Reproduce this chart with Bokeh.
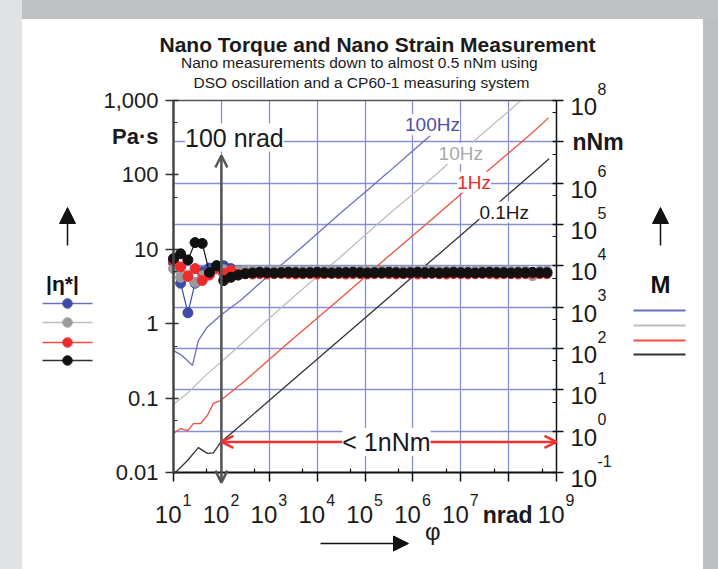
from bokeh.plotting import figure
from bokeh.models import (Range1d, LogScale, LinearScale, LogAxis, FixedTicker, Grid, Label,
                          Arrow, OpenHead, NormalHead, Div, CustomJSTickFormatter,
                          NumeralTickFormatter)
from bokeh.layouts import row, column
from bokeh.embed import file_html
from bokeh.resources import INLINE

FONT = "Liberation Sans"

# ---------------- data ----------------
TITLE = "Nano Torque and Nano Strain Measurement"
SUB1 = "Nano measurements down to almost 0.5  nNm using"
SUB2 = "DSO oscillation and a CP60-1 measuring system"

series_names = ["100Hz", "10Hz", "1Hz", "0.1Hz"]

# |eta*| (Pa.s) versus deflection angle phi (nrad)
phi_eta = [10, 14.1, 20, 28.2, 39.8, 56.2, 79.4, 112, 158, 224, 316, 447, 631, 891,
           1260, 1780, 2510, 3550, 5010, 7080, 1.0e4, 1.41e4, 2.0e4, 2.82e4, 3.98e4,
           5.62e4, 7.94e4, 1.12e5, 1.58e5, 2.24e5, 3.16e5, 4.47e5, 6.31e5, 8.91e5,
           1.26e6, 1.78e6, 2.51e6, 3.55e6, 5.01e6, 7.08e6, 1.0e7, 1.41e7, 2.0e7,
           2.82e7, 3.98e7, 5.62e7, 7.94e7, 1.12e8, 1.58e8, 2.24e8, 3.16e8, 4.47e8, 6.31e8]

eta_100hz = [6.6, 3.5, 1.4, 3.5, 5.0, 5.6, 6.0, 6.0, 5.5, 5.2, 5.0, 4.95,
             4.9, 4.95, 4.9, 4.95, 5.0, 4.95, 4.9, 4.95, 4.9, 4.95,
             4.95, 4.9, 4.95, 5.0, 4.95, 4.9, 4.95, 4.9, 4.95, 4.9,
             4.95, 4.9, 4.8, 4.75, 4.8, 4.9, 4.95, 4.9, 4.95, 4.9,
             4.95, 4.9, 4.95, 4.9, 4.95, 4.9, 4.9, 4.95, 4.9, 4.9,
             4.9]
eta_10hz = [5.5, 4.2, 4.5, 3.6, 4.4, 5.0, 5.4, 5.3, 5.1, 5.15, 5.1, 5.15,
            5.15, 5.1, 5.15, 5.2, 5.15, 5.1, 5.15, 5.15, 5.1, 5.15,
            5.2, 5.15, 5.1, 5.15, 5.15, 5.1, 5.15, 5.2, 5.15, 5.1,
            5.15, 5.15, 5.1, 5.15, 5.2, 5.15, 5.1, 5.15, 5.15, 5.1,
            5.15, 5.2, 5.15, 5.1, 5.15, 5.15, 5.1, 5.15, 4.4, 5.1,
            5.15]
eta_1hz = [7.0, 5.8, 4.3, 5.5, 3.8, 4.5, 5.6, 4.7, 5.2, 4.6, 4.7, 4.65,
           4.7, 4.65, 4.7, 4.75, 4.7, 4.65, 4.7, 4.7, 4.65, 4.7,
           4.75, 4.7, 4.65, 4.7, 4.7, 4.65, 4.7, 4.75, 4.7, 4.65,
           4.7, 4.7, 4.65, 4.7, 4.75, 4.7, 4.65, 4.7, 4.7, 4.65,
           4.7, 4.75, 4.7, 4.65, 4.7, 4.7, 4.65, 4.7, 4.75, 4.7,
           4.7]
eta_01hz = [7.5, 8.7, 7.2, 12.3, 12.0, 4.9, 6.0, 3.8, 4.2, 4.5, 4.7, 4.8,
            4.9, 4.85, 4.8, 4.85, 4.9, 4.85, 4.8, 4.85, 4.9, 4.85,
            4.8, 4.85, 4.85, 4.9, 4.85, 4.8, 4.85, 4.85, 4.9, 4.85,
            4.8, 4.85, 4.9, 4.85, 4.85, 4.8, 4.85, 4.9, 4.85, 4.85,
            4.8, 4.85, 4.9, 4.85, 4.85, 4.8, 4.85, 4.85, 4.9, 4.85,
            4.85]

# torque M (nNm) versus phi (nrad)
phi_m_100 = [10, 15, 25, 33, 50, 95, 250, 1000, 3000, 1.0e4, 3.0e4, 1.0e5, 3.0e5, 1.0e6, 2.3e6]
m_100 = [89, 68, 39, 155, 324, 630, 1450, 6000, 1.75e4, 6.0e4, 1.85e5, 6.0e5, 1.8e6, 6.1e6, 1.4e7]

phi_m_10 = [10, 20, 50, 100, 300, 1000, 3000, 1.0e4, 3.0e4, 1.0e5, 3.0e5, 1.0e6, 3.0e6,
            1.0e7, 3.0e7, 1.0e8, 1.8e8]
m_10 = [4.5, 8.5, 24, 48, 150, 540, 1650, 5500, 1.6e4, 5.5e4, 1.7e5, 5.5e5, 1.6e6,
        5.5e6, 1.65e7, 5.5e7, 1.0e8]

phi_m_1 = [10, 14, 20, 26, 37, 51, 68, 96, 300, 1000, 3000, 1.0e4, 3.0e4, 1.0e5, 3.0e5,
           1.0e6, 3.0e6, 1.0e7, 3.0e7, 1.0e8, 3.0e8, 6.8e8]
m_1 = [0.88, 1.16, 1.03, 1.53, 1.53, 2.4, 4.7, 5.5, 16, 54, 165, 540, 1600, 5400, 1.65e4,
       5.4e4, 1.6e5, 5.4e5, 1.65e6, 5.4e6, 1.6e7, 3.8e7]

phi_m_01 = [10, 12.1, 19.6, 33, 51, 68, 96, 300, 1000, 3000, 1.0e4, 3.0e4, 1.0e5, 3.0e5,
            1.0e6, 3.0e6, 1.0e7, 3.0e7, 1.0e8, 3.0e8, 7.0e8]
m_01 = [0.095, 0.112, 0.195, 0.40, 0.29, 0.30, 0.53, 1.65, 5.5, 16.5, 55, 165, 550, 1650,
        5500, 1.65e4, 5.5e4, 1.65e5, 5.5e5, 1.65e6, 3.9e6]

left_ticks = [0.01, 0.1, 1, 10, 100, 1000]
left_tick_labels = ["0.01", "0.1", "1", "10", "100", "1,000"]
left_minor = [0.05, 0.5, 5, 50, 500]
x_exponents = [1, 2, 3, 4, 5, 6, 7, 8, 9]
right_exponents = [-1, 0, 1, 2, 3, 4, 5, 6, 7, 8]

X_MIN, X_MAX = 10, 1e9
Y_MIN, Y_MAX = 0.01, 1000
M_MIN, M_MAX = 0.1, 1e8

# ---------------- layout geometry (page pixels) ----------------
CL, CR, CT, CB = 22, 703, 19, 569        # white canvas
FL, FR, FT, FB = 173, 556, 100, 472      # plotting box
PXD = (FR - FL) / 8
PYD = (FB - FT) / 5
PYM = (FB - FT) / 9
XLO, XHI = 10 ** (1 - (FL - CL) / PXD), 10 ** (9 + (CR - FR) / PXD)
YLO, YHI = 10 ** (-2 - (CB - FB) / PYD), 10 ** (3 + (FT - CT) / PYD)
MLO, MHI = 10 ** (-1 - (CB - FB) / PYM), 10 ** (8 + (FT - CT) / PYM)

# ---------------- styles ----------------
C_MARK = ["#3f4aa6", "#9b9b9b", "#ee2b2b", "#111111"]
C_LINE = ["#6a6fc6", "#bdbdbd", "#f0503c", "#333333"]
C_LAB = ["#4d4fa6", "#a9a9a9", "#ec2a2a", "#1a1a1a"]
GRID = "#8a8ed8"
RED = "#ee3333"

p = figure(width=CR - CL, height=CB - CT, x_axis_type="log", y_axis_type="log",
           x_range=Range1d(XLO, XHI), y_range=Range1d(YLO, YHI),
           output_backend="svg", toolbar_location=None, title=None, min_border=0,
           background_fill_color="white", border_fill_color="white")
p.extra_y_ranges = {"M": Range1d(MLO, MHI), "py": Range1d(CB, CT)}
p.extra_y_scales = {"M": LogScale(), "py": LinearScale()}
p.extra_x_ranges = {"px": Range1d(CL, CR)}
p.extra_x_scales = {"px": LinearScale()}
p.outline_line_color = None

# bottom axis
xa = p.xaxis[0]
xa.fixed_location = Y_MIN
xa.bounds = (X_MIN, X_MAX)
xa.ticker = FixedTicker(ticks=[10.0 ** e for e in x_exponents],
                        minor_ticks=[5 * 10.0 ** e for e in x_exponents[:-1]])
xa.formatter = CustomJSTickFormatter(code="return ''")
xa.axis_line_color = "#111111"
xa.axis_line_width = 2
xa.major_tick_line_color = "#111111"
xa.major_tick_line_width = 1.5
xa.major_tick_out = 9
xa.major_tick_in = 0
xa.minor_tick_line_color = "#111111"
xa.minor_tick_line_width = 1.2
xa.minor_tick_in = 4
xa.minor_tick_out = 0

# left axis
ya = p.yaxis[0]
ya.fixed_location = X_MIN
ya.bounds = (Y_MIN, Y_MAX)
ya.ticker = FixedTicker(ticks=left_ticks, minor_ticks=left_minor)
ya.formatter = NumeralTickFormatter(format="0,0.[00]")
ya.major_label_overrides = dict(zip(left_ticks, left_tick_labels))
ya.major_label_text_font = FONT
ya.major_label_text_font_size = "22px"
ya.major_label_text_color = "#1a1a1a"
ya.major_label_standoff = 7
ya.axis_line_color = "#444444"
ya.axis_line_width = 2.5
ya.major_tick_line_color = "#333333"
ya.major_tick_line_width = 1.5
ya.major_tick_out = 8
ya.major_tick_in = 5
ya.minor_tick_line_color = "#333333"
ya.minor_tick_line_width = 1.2
ya.minor_tick_in = 4
ya.minor_tick_out = 0

# right axis (torque)
ra = LogAxis(y_range_name="M", fixed_location=X_MAX, bounds=(M_MIN, M_MAX),
             ticker=FixedTicker(ticks=[10.0 ** e for e in right_exponents],
                                minor_ticks=[5 * 10.0 ** e for e in right_exponents[:-1]]),
             formatter=CustomJSTickFormatter(code="return ''"))
ra.axis_line_color = "#111111"
ra.axis_line_width = 1.5
ra.major_tick_line_color = "#111111"
ra.major_tick_line_width = 1.5
ra.major_tick_out = 7
ra.major_tick_in = 4
ra.minor_tick_line_color = "#111111"
ra.minor_tick_in = 4
ra.minor_tick_out = 0
p.add_layout(ra, "right")

# top frame line
ta = LogAxis(fixed_location=Y_MAX, bounds=(X_MIN, X_MAX),
             ticker=FixedTicker(ticks=[]), formatter=CustomJSTickFormatter(code="return ''"),
             axis_line_color="#555555", axis_line_width=1.5,
             major_tick_in=0, major_tick_out=0, minor_tick_in=0, minor_tick_out=0)
p.add_layout(ta, "above")

# grid lines
xgrid_ticks = [10.0 ** e for e in x_exponents[1:-1]]
mgrid_ticks = [10.0 ** e for e in right_exponents[1:-1]]
p.ygrid.visible = False
if "cross_bounds" in Grid.properties():
    p.xgrid.ticker = FixedTicker(ticks=xgrid_ticks)
    p.xgrid.cross_bounds = (Y_MIN, Y_MAX)
    p.xgrid.grid_line_color = GRID
    p.xgrid.grid_line_width = 1.3
    hg = Grid(dimension=1, ticker=FixedTicker(ticks=mgrid_ticks), y_range_name="M",
              cross_bounds=(X_MIN, X_MAX), grid_line_color=GRID, grid_line_width=1.3)
    p.add_layout(hg)
else:
    p.xgrid.visible = False
    p.segment(x0=xgrid_ticks, y0=[Y_MIN] * len(xgrid_ticks), x1=xgrid_ticks,
              y1=[Y_MAX] * len(xgrid_ticks), line_color=GRID, line_width=1.3, level="underlay")
    p.segment(x0=[X_MIN] * len(mgrid_ticks), y0=mgrid_ticks, x1=[X_MAX] * len(mgrid_ticks),
              y1=mgrid_ticks, y_range_name="M", line_color=GRID, line_width=1.3, level="underlay")

# torque lines
for xs, ys, c in zip([phi_m_100, phi_m_10, phi_m_1, phi_m_01], [m_100, m_10, m_1, m_01], C_LINE):
    p.line(xs, ys, y_range_name="M", line_color=c, line_width=1.3)

# viscosity series
for ys, cm in zip([eta_100hz, eta_10hz, eta_1hz, eta_01hz], C_MARK):
    p.line(phi_eta, ys, line_color=cm, line_width=1.2)
    p.scatter(phi_eta, ys, size=10, fill_color=cm, line_color=cm)

# arrows (drawn before labels so that label boxes sit on top)
p.add_layout(Arrow(start=OpenHead(size=12, line_color="#555555", line_width=2.5),
                   end=OpenHead(size=12, line_color="#555555", line_width=2.5),
                   x_start=100, y_start=182, x_end=100, y_end=0.0073,
                   line_color="#555555", line_width=2.5))
p.add_layout(Arrow(start=OpenHead(size=12, line_color=RED, line_width=2.5),
                   end=OpenHead(size=12, line_color=RED, line_width=2.5),
                   x_start=100, y_start=0.55, x_end=1e9, y_end=0.55, y_range_name="M",
                   line_color=RED, line_width=2.5))
p.add_layout(Arrow(end=NormalHead(size=15, fill_color="#111111", line_color="#111111"),
                   x_start=320, y_start=543, x_end=408, y_end=543,
                   x_range_name="px", y_range_name="py",
                   line_color="#111111", line_width=1.5))
for ax in (67, 660):
    p.add_layout(Arrow(end=NormalHead(size=16, fill_color="#111111", line_color="#111111"),
                       x_start=ax, y_start=245, x_end=ax, y_end=207,
                       x_range_name="px", y_range_name="py",
                       line_color="#111111", line_width=1.5))


def lab(x, y, text, size, color="#1a1a1a", bold=False, align="center", baseline="middle",
        xo=0, yo=0, bg=None, yr=None, xr=None):
    kw = dict(x=x, y=y, text=text, text_font=FONT, text_font_size=f"{size}px",
              text_color=color, text_align=align, text_baseline=baseline,
              x_offset=xo, y_offset=yo)
    if bold:
        kw["text_font_style"] = "bold"
    if bg:
        kw["background_fill_color"] = bg
    if yr:
        kw["y_range_name"] = yr
    if xr:
        kw["x_range_name"] = xr
    p.add_layout(Label(**kw))


# title & subtitle
lab(377, 44, TITLE, 21, bold=True, xr="px", yr="py")
lab(361, 62, SUB1, 15.5, xr="px", yr="py")
lab(361, 82, SUB2, 15.5, xr="px", yr="py")

# x tick labels
for e in x_exponents:
    if e == 8:
        lab(10.0 ** e, Y_MIN, "nrad", 23, bold=True, xo=-1, yo=-42)
        continue
    lab(10.0 ** e, Y_MIN, "10", 24, align="right", xo=8, yo=-42)
    lab(10.0 ** e, Y_MIN, str(e), 16, align="left", xo=9, yo=-27)
lab(1e6, Y_MIN, "φ", 24, xo=20, yo=-59)

# right tick labels
for e in right_exponents:
    if e == 7:
        lab(X_MAX, 10.0 ** e, "nNm", 23, bold=True, align="left", xo=16, yr="M")
        continue
    lab(X_MAX, 10.0 ** e, "10", 24, align="left", xo=14, yo=-6, yr="M")
    lab(X_MAX, 10.0 ** e, str(e), 16, align="left", xo=41, yo=12, yr="M")

lab(X_MIN, 330, "Pa·s", 22, bold=True, align="right", xo=-15)

# curve labels
lab(2.57e6, 2.6e7, series_names[0], 19, color=C_LAB[0], bg="white", yr="M")
lab(1.0e7, 5.2e6, series_names[1], 19, color=C_LAB[1], bg="white", yr="M")
lab(1.9e7, 1.05e6, series_names[2], 19, color=C_LAB[2], bg="white", yr="M")
lab(8.1e7, 2.0e5, series_names[3], 19, color=C_LAB[3], bg="white", yr="M")

lab(187, 318, "100 nrad", 25, bg="white")
lab(2.8e5, 0.55, "< 1nNm", 25, bg="white", yr="M")

# side legends
for yy, cl, cm in zip([303, 322, 342, 360], C_LINE, C_MARK):
    p.line([42, 92], [yy, yy], x_range_name="px", y_range_name="py", line_color=cl, line_width=1.6)
    p.scatter([67], [yy], x_range_name="px", y_range_name="py", size=9.5,
              fill_color=cm, line_color=cm)
for yy, cl in zip([310, 325, 340, 354], C_LINE):
    p.line([633, 685], [yy, yy], x_range_name="px", y_range_name="py", line_color=cl, line_width=2)
lab(62, 283, "|η*|", 21, bold=True, color="#111111", xr="px", yr="py")
lab(660, 284, "M", 24, bold=True, color="#111111", xr="px", yr="py")

left_div = Div(text="", width=CL, height=CB, margin=0, styles={"background-color": "#e1e2e4"})
top_div = Div(text="", width=718 - CL, height=CT, margin=0, styles={"background-color": "#c0c1c5"})
right_div = Div(text="", width=718 - CR, height=CB - CT, margin=0,
                styles={"background-color": "#bebfc3"})

layout = row(left_div, column(top_div, row(p, right_div, spacing=0), spacing=0), spacing=0)

open("out.html", "w").write(file_html(layout, INLINE))
